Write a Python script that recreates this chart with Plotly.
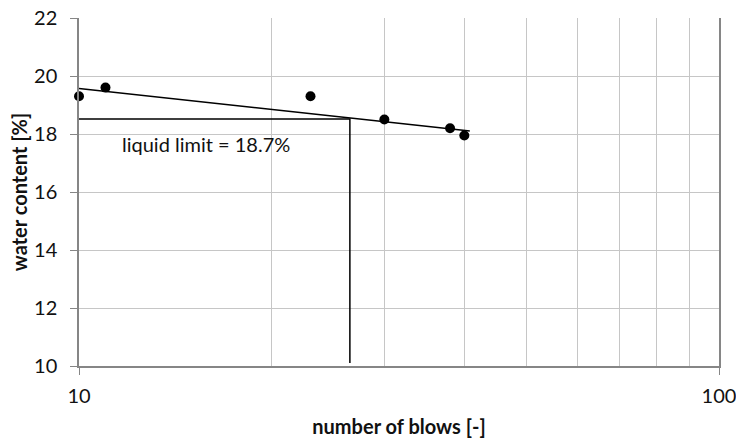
import math
import plotly.graph_objects as go

# data
blows = [10, 11, 23, 30, 38, 40]
water = [19.3, 19.6, 19.3, 18.5, 18.2, 17.95]
trend_blows = [10, 40.8]
trend_water = [19.57, 18.10]
ll_blows = [10, 26.5, 26.5]
ll_water = [18.52, 18.52, 10.1]
y_ticks = [10, 12, 14, 16, 18, 20, 22]
x_ticks = [10, 100]
x_minor = [20, 30, 40, 50, 60, 70, 80, 90]
label_text = "liquid limit = 18.7%"
label_x = 11.6
label_y = 17.65

FONT = "Lato"
AXIS = "#868686"
GRID = "#c6c6c6"

fig = go.Figure()
fig.add_trace(go.Scatter(x=trend_blows, y=trend_water, mode="lines",
                         line=dict(color="black", width=1.5), showlegend=False))
fig.add_trace(go.Scatter(x=ll_blows, y=ll_water, mode="lines",
                         line=dict(color="black", width=1.5), showlegend=False))
fig.add_trace(go.Scatter(x=blows, y=water, mode="markers",
                         marker=dict(color="black", size=10), showlegend=False,
                         cliponaxis=False))

fig.add_annotation(x=math.log10(label_x), y=label_y, text=label_text,
                   showarrow=False, xanchor="left", yanchor="middle",
                   font=dict(family=FONT, size=20, color="#111"))

fig.update_layout(
    width=736, height=438,
    margin=dict(l=79, r=17, t=18, b=72, autoexpand=False),
    paper_bgcolor="white", plot_bgcolor="white",
    font=dict(family=FONT, size=20, color="#111"),
)
fig.update_xaxes(
    type="log", range=[1, 2], tickvals=x_ticks, ticktext=["10", "100"],
    showgrid=True, gridcolor=GRID, gridwidth=1,
    minor=dict(tickvals=x_minor, showgrid=True, gridcolor=GRID, gridwidth=1, ticks=""),
    showline=True, linecolor=AXIS, linewidth=1.5,
    ticks="outside", ticklen=7, tickcolor=AXIS, tickwidth=1,
    ticklabelstandoff=4, ticklabeloverflow="allow",
    zeroline=False,
    title=dict(text="<b>number of blows [-]</b>", standoff=14,
               font=dict(family=FONT, size=20, color="#111")),
)
fig.update_yaxes(
    range=[10, 22], tickvals=y_ticks,
    showgrid=True, gridcolor=GRID, gridwidth=1,
    showline=True, linecolor=AXIS, linewidth=1.5, mirror=True,
    ticks="outside", ticklen=7, tickcolor=AXIS, tickwidth=1,
    ticklabelstandoff=9,
    zeroline=False,
    title=dict(text="<b>water content [%]</b>", standoff=1,
               font=dict(family=FONT, size=20, color="#111")),
)

fig.write_html("out.html", config={"displayModeBar": False},
               post_script="document.body.style.margin='0';document.body.style.padding='0';")
